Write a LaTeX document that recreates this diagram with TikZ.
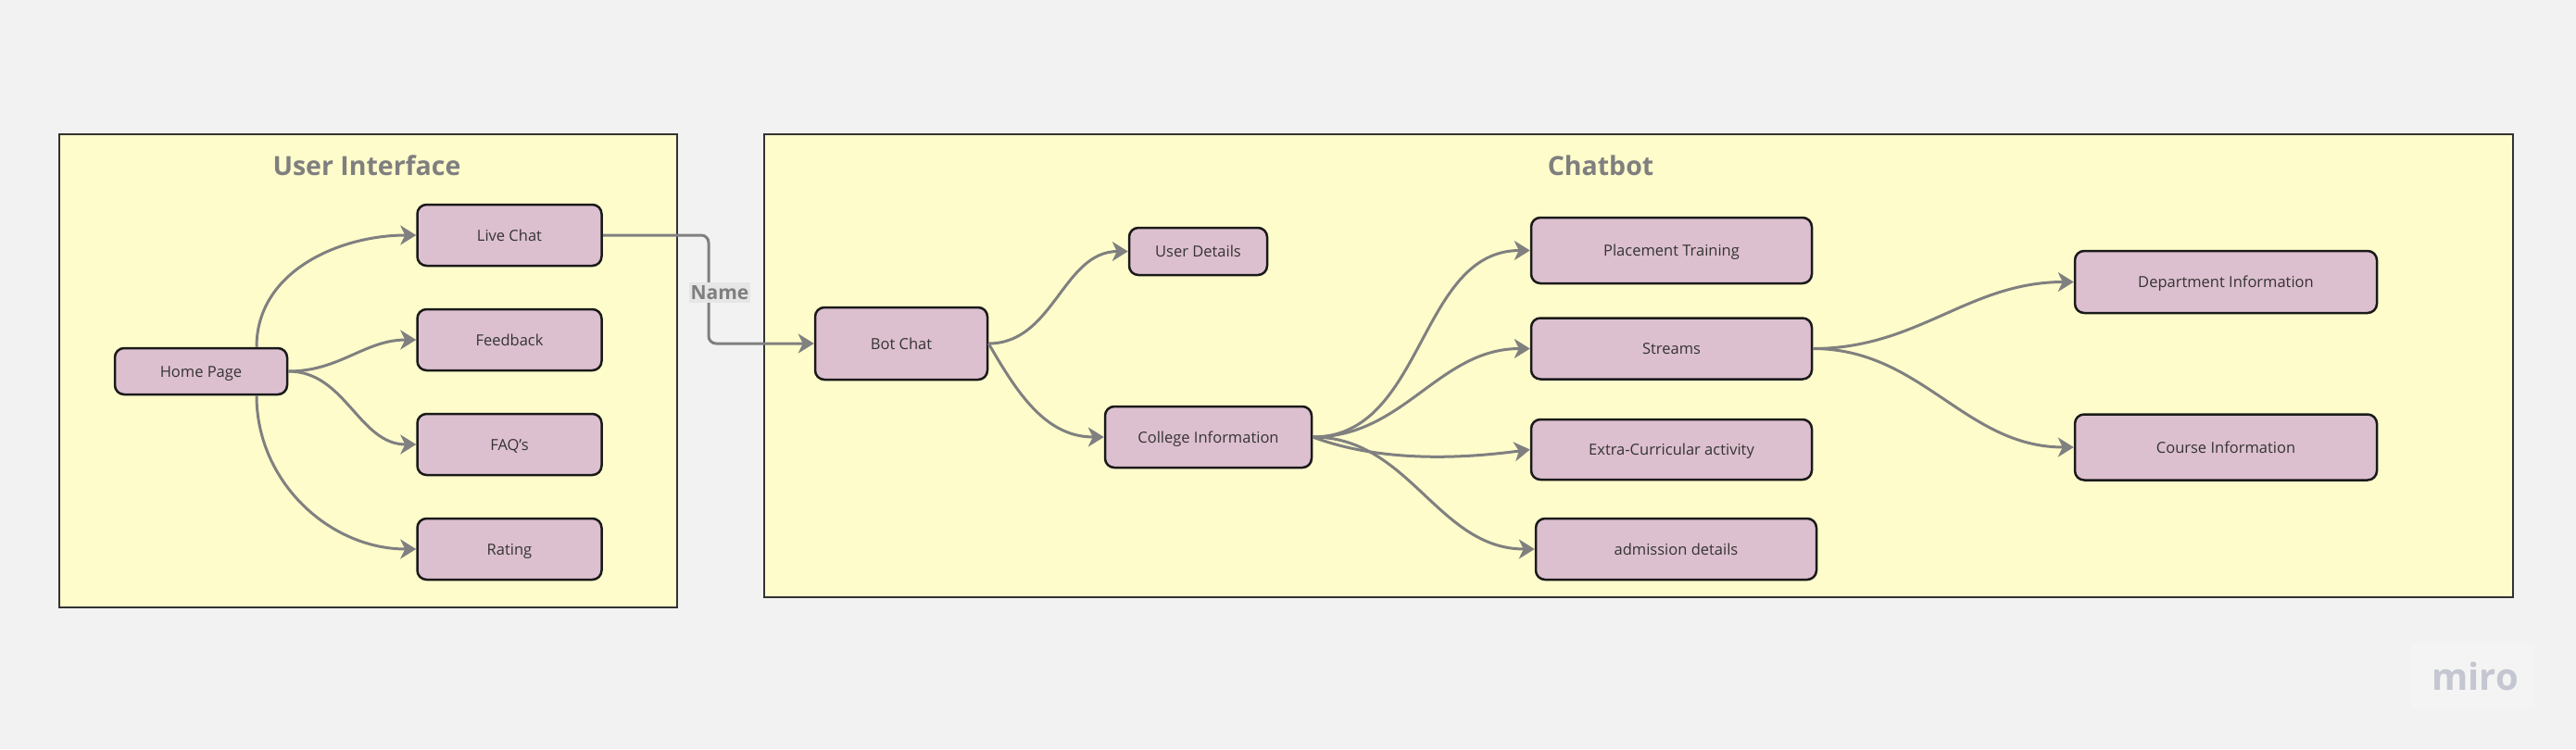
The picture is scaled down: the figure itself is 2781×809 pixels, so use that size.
\documentclass[tikz,border=0pt]{standalone}
\usepackage{fontspec}
\setmainfont{Open Sans}
\usetikzlibrary{arrows.meta,calc}
\definecolor{bgc}{HTML}{F2F2F2}
\definecolor{framefill}{HTML}{FFFCCB}
\definecolor{framedraw}{HTML}{333333}
\definecolor{boxfill}{HTML}{DDC0CF}
\definecolor{boxdraw}{HTML}{1A1A1A}
\definecolor{linec}{HTML}{808080}
\definecolor{txtc}{HTML}{333333}
\definecolor{titlec}{HTML}{7F7F7F}
\definecolor{labelbg}{HTML}{E6E6E6}
\definecolor{miroc}{HTML}{C4C6D0}
\definecolor{mirobg}{HTML}{F4F4F4}
\begin{document}
\begin{tikzpicture}[x=1pt,y=1pt,
  frame/.style={draw=framedraw,fill=framefill,line width=2pt},
  card/.style 2 args={draw=boxdraw,fill=boxfill,line width=2.5pt,rounded corners=10pt,
    minimum width=#1,minimum height=#2,inner sep=0pt,text=txtc,
    text height=16pt,text depth=4pt,
    font=\fontsize{16.5}{20}\selectfont},
  title/.style={text=titlec,font=\fontsize{28.5}{34}\selectfont\bfseries},
  conn/.style={draw=linec,line width=3pt,-{Stealth[length=17pt,width=21pt,inset=5pt]}}]
\path[use as bounding box,fill=bgc] (0,0) rectangle (2781,-809);

% frames
\path[frame] (64,-145) rectangle (731,-656);
\path[frame] (825,-145) rectangle (2713,-645);
\node[title] (uititle) at (396,-179) {User Interface};
\node[title] (cbtitle) at (1728,-179) {Chatbot};

% user interface nodes
\node[card={186}{50}] (home) at (217,-401) {Home Page};
\node[card={199}{66}] (live) at (550,-254) {Live Chat};
\node[card={199}{66}] (feed) at (550,-367) {Feedback};
\node[card={199}{66}] (faq) at (550,-480) {FAQ's};
\node[card={199}{66}] (rating) at (550,-593) {Rating};

% chatbot nodes
\node[card={186}{78}] (bot) at (973,-371) {Bot Chat};
\node[card={149}{51}] (user) at (1293.5,-271.5) {User Details};
\node[card={223}{66}] (college) at (1304.5,-472) {College Information};
\node[card={303}{71}] (place) at (1804.5,-270.5) {Placement Training};
\node[card={303}{66}] (streams) at (1804.5,-376.5) {Streams};
\node[card={303}{65}] (extra) at (1804.5,-485.5) {Extra-Curricular activity};
\node[card={303}{66}] (adm) at (1809.5,-593) {admission details};
\node[card={326}{67}] (dept) at (2403,-304.5) {Department Information};
\node[card={326}{71}] (course) at (2403,-483) {Course Information};

% connectors
\draw[conn] ([xshift=60pt]home.north) to[out=90,in=180] (live.west);
\draw[conn] (home.east) to[out=0,in=180] (feed.west);
\draw[conn] (home.east) to[out=0,in=180] (faq.west);
\draw[conn] ([xshift=60pt]home.south) to[out=-90,in=180] (rating.west);

\coordinate (jx) at (765,0);
\draw[conn,rounded corners=8pt] (live.east) -- (jx |- live.east) -- (jx |- bot.west) -- (bot.west);
\node[fill=labelbg,text=titlec,font=\fontsize{21}{25}\selectfont\bfseries,inner xsep=2pt,inner ysep=3pt] (name) at (777,-316) {Name};

\draw[conn] (bot.east) to[out=0,in=180] (user.west);
\draw[conn] (bot.east) to[out=-60,in=180] (college.west);

\draw[conn] (college.east) to[out=0,in=180] (place.west);
\draw[conn] (college.east) to[out=0,in=180] (streams.west);
\draw[conn] (college.east) .. controls +(80,-30) and +(-60,-8) .. (extra.west);
\draw[conn] (college.east) to[out=0,in=180] (adm.west);

\draw[conn] (streams.east) to[out=0,in=180] (dept.west);
\draw[conn] (streams.east) to[out=0,in=180] (course.west);

% watermark
\fill[mirobg] (2603,-695) rectangle (2737,-765);
\node[text=miroc,font=\fontsize{40}{44}\selectfont\bfseries] (miro) at (2672,-730) {miro};
\end{tikzpicture}
\end{document}
